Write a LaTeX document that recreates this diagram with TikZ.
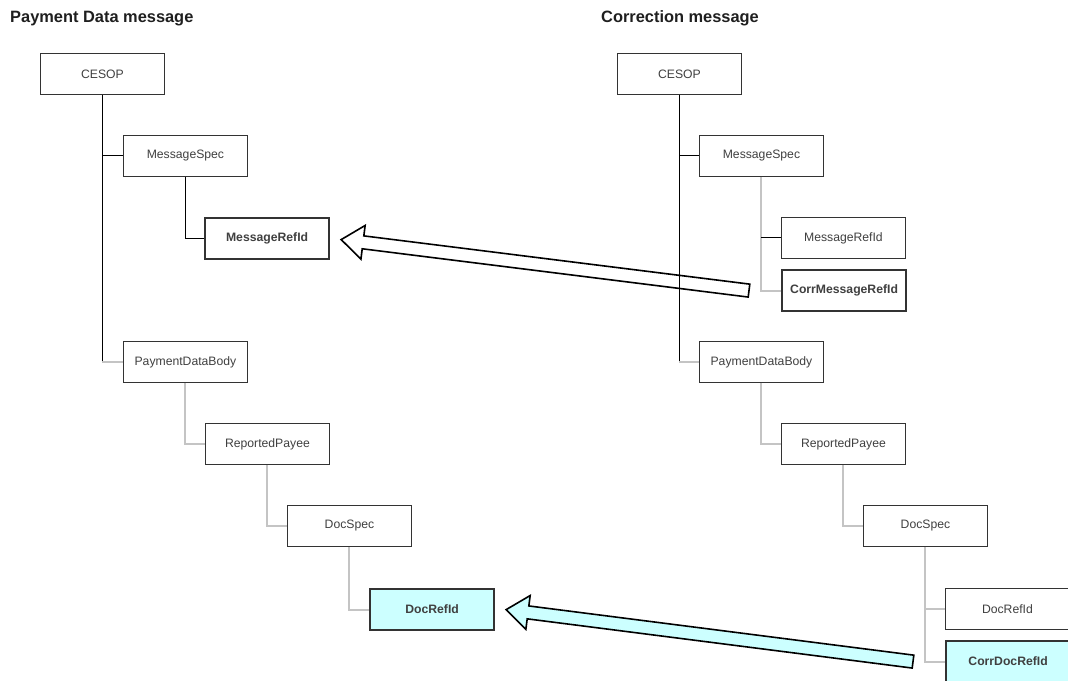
\documentclass[tikz,border=0pt]{standalone}
\usepackage{fontspec}
\setmainfont{Liberation Sans}
\usetikzlibrary{calc}
\definecolor{boxline}{HTML}{333333}
\definecolor{boxtext}{HTML}{404040}
\definecolor{linkgray}{HTML}{C4C4C4}
\definecolor{hicyan}{HTML}{CCFFFF}
\tikzset{
  elem/.style={draw=boxline, line width=0.9pt, fill=white, rectangle, minimum width=124pt, minimum height=41pt, inner sep=0pt, anchor=north west, text=boxtext, font=\fontsize{12.2}{14}\selectfont},
  hielem/.style={elem, line width=2.2pt, font=\fontsize{12.2}{14}\selectfont\bfseries},
  cyanelem/.style={hielem, fill=hicyan},
  title/.style={anchor=base west, inner sep=0pt, text=black!88, font=\fontsize{16.4}{19}\selectfont\bfseries},
  blink/.style={draw=black, line width=1pt},
  glink/.style={draw=linkgray, line width=2pt},
  blockarrow/.style={draw=black, line width=1.6pt, line join=miter},
}
\begin{document}
\begin{tikzpicture}[x=1pt,y=-1pt]
\useasboundingbox (0,0) rectangle (1068,680);
% titles
\node[title] (t1) at (10,23) {Payment Data message};
\node[title] (t2) at (601,23) {Correction message};
% left tree
\node[elem] (lcesop) at (40,53) {CESOP};
\node[elem] (lms) at (123,135) {MessageSpec};
\node[hielem] (lmr) at (204,217) {MessageRefId};
\node[elem] (lpdb) at (123,341) {PaymentDataBody};
\node[elem] (lrp) at (205,423) {ReportedPayee};
\node[elem] (lds) at (287,505) {DocSpec};
\node[cyanelem] (ldr) at (369,588) {DocRefId};
% right tree
\node[elem] (rcesop) at (617,53) {CESOP};
\node[elem] (rms) at (699,135) {MessageSpec};
\node[elem] (rmr) at (781,217) {MessageRefId};
\node[hielem] (rcmr) at (781,269) {CorrMessageRefId};
\node[elem] (rpdb) at (699,341) {PaymentDataBody};
\node[elem] (rrp) at (781,423) {ReportedPayee};
\node[elem] (rds) at (863,505) {DocSpec};
\node[elem] (rdr) at (945,588) {DocRefId};
\node[cyanelem] (rcdr) at (945,640) {CorrDocRefId};
% block arrow 1
\coordinate (a1T) at ($(rcmr.west)+(-32,0)$);
\coordinate (a1P) at ($(lmr.east)+(11,1)$);
\coordinate (a1H) at ($(a1P)!22pt!(a1T)$);
\draw[blockarrow, fill=white] ($(a1T)!6.5pt!90:(a1P)$) -- ($(a1H)!6.5pt!90:(a1P)$) -- ($(a1H)!17pt!90:(a1P)$) -- (a1P) -- ($(a1H)!17pt!-90:(a1P)$) -- ($(a1H)!6.5pt!-90:(a1P)$) -- ($(a1T)!6.5pt!-90:(a1P)$) -- cycle;
% block arrow 2
\coordinate (a2T) at ($(rcdr.west)+(-32,0)$);
\coordinate (a2P) at ($(ldr.east)+(11,0)$);
\coordinate (a2H) at ($(a2P)!22pt!(a2T)$);
\draw[blockarrow, fill=hicyan] ($(a2T)!6.5pt!90:(a2P)$) -- ($(a2H)!6.5pt!90:(a2P)$) -- ($(a2H)!17pt!90:(a2P)$) -- (a2P) -- ($(a2H)!17pt!-90:(a2P)$) -- ($(a2H)!6.5pt!-90:(a2P)$) -- ($(a2T)!6.5pt!-90:(a2P)$) -- cycle;
% left connectors
\draw[blink] (lcesop.south) -- (lcesop.south |- lpdb.west);
\draw[blink] (lcesop.south |- lms.west) -- (lms.west);
\draw[glink] (lcesop.south |- lpdb.west) -- (lpdb.west);
\draw[blink] (lms.south) |- (lmr.west);
\draw[glink] (lpdb.south) |- (lrp.west);
\draw[glink] (lrp.south) |- (lds.west);
\draw[glink] (lds.south) |- (ldr.west);
% right connectors
\draw[blink] (rcesop.south) -- (rcesop.south |- rpdb.west);
\draw[blink] (rcesop.south |- rms.west) -- (rms.west);
\draw[glink] (rcesop.south |- rpdb.west) -- (rpdb.west);
\draw[glink] (rms.south) |- (rcmr.west);
\draw[blink] (rms.south |- rmr.west) -- (rmr.west);
\draw[glink] (rpdb.south) |- (rrp.west);
\draw[glink] (rrp.south) |- (rds.west);
\draw[glink] (rds.south) |- (rcdr.west);
\draw[glink] (rds.south |- rdr.west) -- (rdr.west);
\end{tikzpicture}
\end{document}
